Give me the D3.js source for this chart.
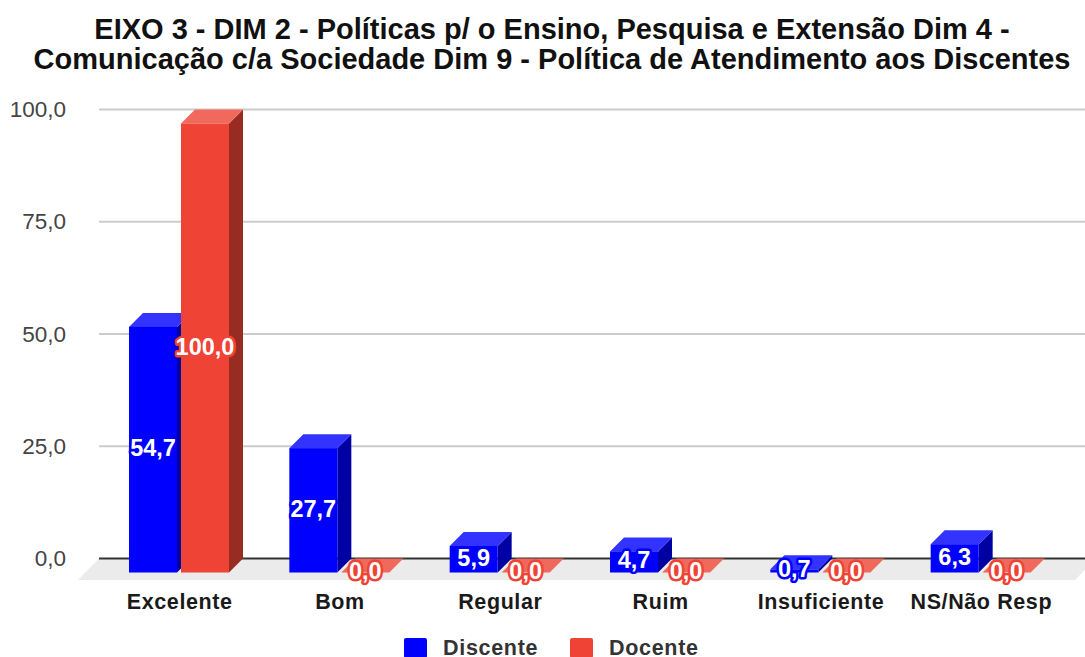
<!DOCTYPE html>
<html>
<head>
<meta charset="utf-8">
<script src="https://cdn.jsdelivr.net/npm/d3@7"></script>
<style>
html,body{margin:0;padding:0;background:#fff;overflow:hidden}
svg{display:block}
text{font-family:"Liberation Sans",Arial,sans-serif}
</style>
</head>
<body>
<div id="chart"></div>
<script>
const categories = ["Excelente","Bom","Regular","Ruim","Insuficiente","NS/Não Resp"];
const seriesNames = ["Discente","Docente"];
const discente = [54.7,27.7,5.9,4.7,0.7,6.3];
const docente = [100,0,0,0,0,0];
const yTicks = [0,25,50,75,100];
const titleLines = ["EIXO 3 - DIM 2 - Políticas p/ o Ensino, Pesquisa e Extensão Dim 4 -","Comunicação c/a Sociedade Dim 9 - Política de Atendimento aos Discentes"];

const width = 1085, height = 657;
const depth = 14;
const colors = {
  Discente:{face:"#0000ff",side:"#0000a3",top:"#3333ff"},
  Docente:{face:"#ee4335",side:"#982b22",top:"#f1695d"}
};
const fmt = v => d3.format(".1f")(v).replace(".",",");

const svg = d3.select("#chart").append("svg").attr("width",width).attr("height",height);

// title
svg.append("g").selectAll("text").data(titleLines).enter().append("text")
  .attr("x",552).attr("y",(d,i)=>39+i*30)
  .attr("text-anchor","middle")
  .style("font-size","29px").style("font-weight","bold").attr("fill","#111")
  .text(d=>d);

/*scales*/
// y scale is for the back wall, front faces are shifted by depth
const y = d3.scaleLinear().domain([0,100]).range([558.5,109.5]);
const x0 = d3.scaleBand().domain(categories).range([99.5,1061.5]);
const x1 = d3.scaleBand().domain(seriesNames).range([29.5,129.5]).paddingInner(4/52);

// floor
const y0 = y(0);
svg.append("path")
  .attr("d",d3.line()([[99,y0],[1096,y0],[1075,y0+21.5],[78,y0+21.5]])+"Z")
  .attr("fill","#ebebeb");

// grid + axis
const axisY = d3.axisLeft(y).tickValues(yTicks).tickFormat(fmt).tickSize(0).tickPadding(0);
const gY = svg.append("g").attr("transform","translate(66,0)").call(axisY);
gY.select(".domain").remove();
gY.selectAll("text").style("font-family","Liberation Sans").style("font-size","22.5px").attr("fill","#444").attr("dy","0.32em");

svg.append("g").selectAll("line").data(yTicks.filter(d=>d>0)).enter().append("line")
  .attr("x1",99).attr("x2",1085).attr("y1",d=>y(d)).attr("y2",d=>y(d))
  .attr("stroke","#ccc").attr("stroke-width",2);
svg.append("line").attr("x1",99).attr("x2",1085).attr("y1",y0).attr("y2",y0)
  .attr("stroke","#333").attr("stroke-width",2);

// bars
const series = [discente,docente];
const bars = [];
seriesNames.forEach((name,s)=>{
  categories.forEach((c,i)=>bars.push({name:name,cat:c,value:series[s][i]}));
});

const barG = svg.selectAll(".bar").data(bars).enter().append("g").attr("class","bar");
const left = d => x0(d.cat)+x1(d.name);
const right = d => left(d)+x1.bandwidth();
const yTop = d => y(d.value)+depth;
const yBase = y0+depth;

barG.append("path").attr("fill",d=>colors[d.name].side)
  .attr("d",d=>d3.line()([[right(d),yTop(d)],[right(d)+depth,yTop(d)-depth],[right(d)+depth,yBase-depth],[right(d),yBase]])+"Z");
barG.append("path").attr("fill",d=>colors[d.name].top)
  .attr("d",d=>d3.line()([[left(d),yTop(d)],[left(d)+depth,yTop(d)-depth],[right(d)+depth,yTop(d)-depth],[right(d),yTop(d)]])+"Z");
barG.append("rect").attr("fill",d=>colors[d.name].face)
  .attr("x",left).attr("y",yTop)
  .attr("width",x1.bandwidth()).attr("height",d=>yBase-yTop(d));

// value labels, on top of every bar
svg.selectAll(".val").data(bars).enter().append("text").attr("class","val")
  .attr("x",d=>(left(d)+right(d))/2)
  .attr("y",d=>(yTop(d)+yBase)/2+6.5)
  .attr("text-anchor","middle")
  .style("font-family","Liberation Sans").style("font-size","23.5px").style("font-weight","bold")
  .style("paint-order","stroke")
  .attr("fill","#fff").attr("stroke",d=>colors[d.name].face).attr("stroke-width",5).attr("stroke-linejoin","round")
  .text(d=>fmt(d.value));

// category axis
const axisX = d3.axisBottom(x0).tickSize(0).tickPadding(0);
const gX = svg.append("g").attr("transform","translate(0,593.5)").call(axisX);
gX.select(".domain").remove();
gX.selectAll("text").style("font-family","Liberation Sans").style("font-size","21.5px").style("font-weight","bold")
  .style("letter-spacing","0.6px").attr("fill","#1a1a1a");

// legend
const legendX = d3.scaleOrdinal().domain(seriesNames).range([404,570]);
const leg = svg.selectAll(".leg").data(seriesNames).enter().append("g").attr("class","leg")
  .attr("transform",d=>"translate("+legendX(d)+",638)");
leg.append("rect").attr("width",23).attr("height",20).attr("rx",2).attr("fill",d=>colors[d].face);
leg.append("text").attr("x",39).attr("y",17)
  .style("font-size","21.5px").style("font-weight","bold").style("letter-spacing","0.7px").attr("fill","#333")
  .text(d=>d);
</script>
</body>
</html>
